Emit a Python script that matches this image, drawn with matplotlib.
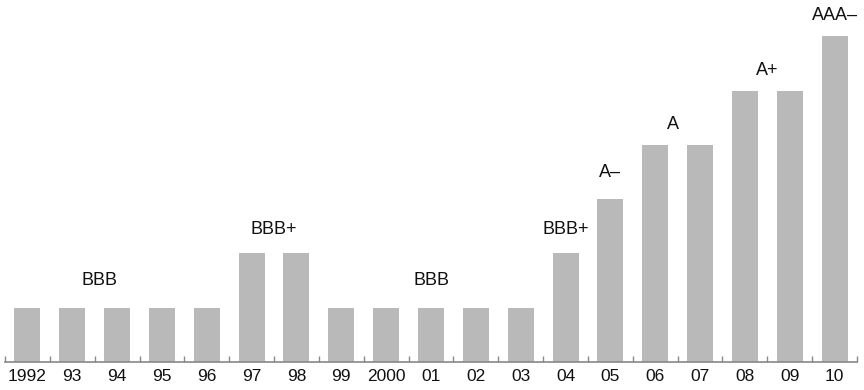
import matplotlib
matplotlib.use("Agg")
import matplotlib.pyplot as plt
import numpy as np

plt.rcParams['font.family'] = ['Liberation Sans', 'DejaVu Sans']

# ratings history, one level per notch
years = ["1992", "93", "94", "95", "96", "97", "98", "99", "2000", "01",
         "02", "03", "04", "05", "06", "07", "08", "09", "10"]
levels = [1, 1, 1, 1, 1, 2, 2, 1, 1, 1, 1, 1, 2, 3, 4, 4, 5, 5, 6]

rating_text = ["BBB", "BBB+", "BBB", "BBB+", "A\u2013", "A", "A+", "AAA\u2013"]
rating_x = [1.6, 5.5, 9.0, 12.0, 13.0, 14.4, 16.5, 18.0]
rating_level = [1, 2, 1, 2, 3, 4, 5, 6]
rating_gap = [0.5, 0.45, 0.5, 0.45, 0.5, 0.37, 0.37, 0.39]

fig = plt.figure(figsize=(8.64, 3.9), dpi=100)
ax = fig.add_axes([5 / 864, 28 / 390, 852 / 864, 362 / 390])

x = np.arange(len(years))
ax.bar(x, levels, width=0.58, color='#b9b9b9', zorder=2)

for txt, xx, lv, gap in zip(rating_text, rating_x, rating_level, rating_gap):
    ax.text(xx, lv + gap, txt, ha='center', va='center', fontsize=13, color='#111111')

ax.set_xlim(-0.5, len(years) - 0.5)
ax.set_ylim(0, 6.67)

ax.set_xticks(x)
ax.set_xticklabels(years, fontsize=12.5, color='#111111')
ax.tick_params(axis='x', which='major', length=0, pad=5)
ax.set_xticks(np.arange(-0.5, len(years), 1.0), minor=True)
ax.tick_params(axis='x', which='minor', direction='in', length=4, width=1, color='#888888')
ax.set_yticks([])

for s in ['top', 'right', 'left']:
    ax.spines[s].set_visible(False)
ax.spines['bottom'].set_color('#888888')
ax.spines['bottom'].set_linewidth(1.2)

fig.savefig("out.png", dpi=100)
